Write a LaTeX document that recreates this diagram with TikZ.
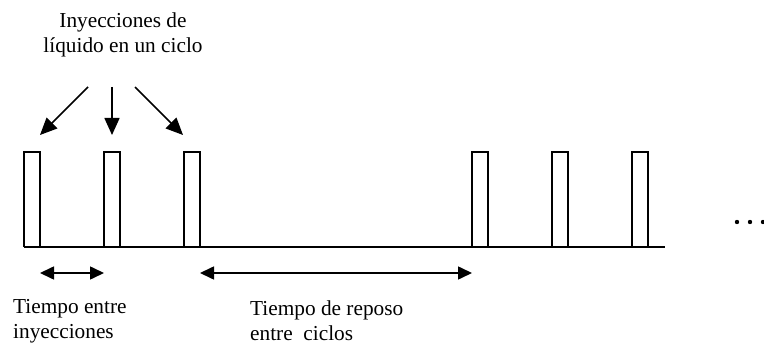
\documentclass[tikz,border=0pt]{standalone}
\usepackage{fontspec}
\setmainfont{Liberation Serif}
\usetikzlibrary{arrows.meta}
\tikzset{
  pulse/.style={line width=2.2pt},
  baseln/.style={line width=2.2pt},
  ptr/.style={line width=1.6pt,-{Triangle[length=17pt,width=15pt]}},
  dbl/.style={line width=1.6pt,{Triangle[length=14pt,width=13pt]}-{Triangle[length=14pt,width=13pt]}},
  lbl/.style={font=\fontsize{21.3}{25}\selectfont,inner sep=0pt,align=left},
  lblc/.style={font=\fontsize{21.3}{25}\selectfont,inner sep=0pt,align=center}
}
\begin{document}
\begin{tikzpicture}[x=1pt,y=-1pt]
\useasboundingbox (0,0) rectangle (764,345);
% baseline
\coordinate (b0) at (24,247);
\coordinate (b1) at (665,247);
\draw[baseln] (b0) -- (b1);
% pulses
\foreach \x/\n in {24/p1,104/p2,184/p3,472/p4,552/p5,632/p6}{
  \draw[pulse] (\x,247) -- (\x,152) -- (\x+16,152) -- (\x+16,247);
}
% top label
\node[lblc] (top) at (123,35) {Inyecciones de\\líquido en un ciclo};
\coordinate (s1) at (88,87);
\coordinate (s2) at (112,87);
\coordinate (s3) at (135,87);
\coordinate (t1) at (40,135);
\coordinate (t2) at (112,135);
\coordinate (t3) at (183,135);
\draw[ptr] (s1) -- (t1);
\draw[ptr] (s2) -- (t2);
\draw[ptr] (s3) -- (t3);
% bottom arrows
\coordinate (a1) at (40,273);
\coordinate (a2) at (104,273);
\coordinate (a3) at (200,273);
\coordinate (a4) at (472,273);
\draw[dbl] (a1) -- (a2);
\draw[dbl] (a3) -- (a4);
% bottom labels
\node[lbl,anchor=west] (l1) at (13,321) {Tiempo entre\\inyecciones};
\node[lbl,anchor=west] (l2) at (250,321) {Tiempo de reposo\\entre\ \ ciclos};
% dots
\foreach \x in {737,750,763}{
  \fill (\x,222) circle (2.2pt);
}
\end{tikzpicture}
\end{document}
